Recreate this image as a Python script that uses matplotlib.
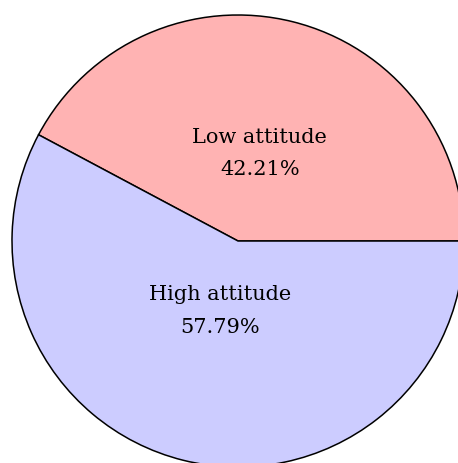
import numpy as np
import matplotlib
matplotlib.use("Agg")
from matplotlib import pyplot as plt

plt.rcParams['font.family'] = ['DejaVu Serif']

names = ['Low attitude', 'High attitude']
shares = [42.21, 57.79]
colors = ['#ffb3b3', '#ccccff']
label_r = [0.40, 0.32]  # label distance from centre, fraction of radius

fig = plt.figure(figsize=(4.58, 4.63), dpi=100)
ax = fig.add_axes([0, 0, 1, 1])

wedges, _ = ax.pie(shares, colors=colors, startangle=0, counterclock=True,
                   wedgeprops=dict(edgecolor='black', linewidth=1.1))

for w, name, s, r in zip(wedges, names, shares, label_r):
    mid = np.deg2rad((w.theta1 + w.theta2) / 2)
    ax.text(r * np.cos(mid), r * np.sin(mid), f'{name}\n{s:.2f}%',
            ha='center', va='center', fontsize=15, linespacing=1.9)

ax.set_aspect('equal')
ax.set_xlim(-238 / 226, 220 / 226)
ax.set_ylim(-222 / 226, 241 / 226)
ax.axis('off')

fig.savefig('out.png', dpi=100)
